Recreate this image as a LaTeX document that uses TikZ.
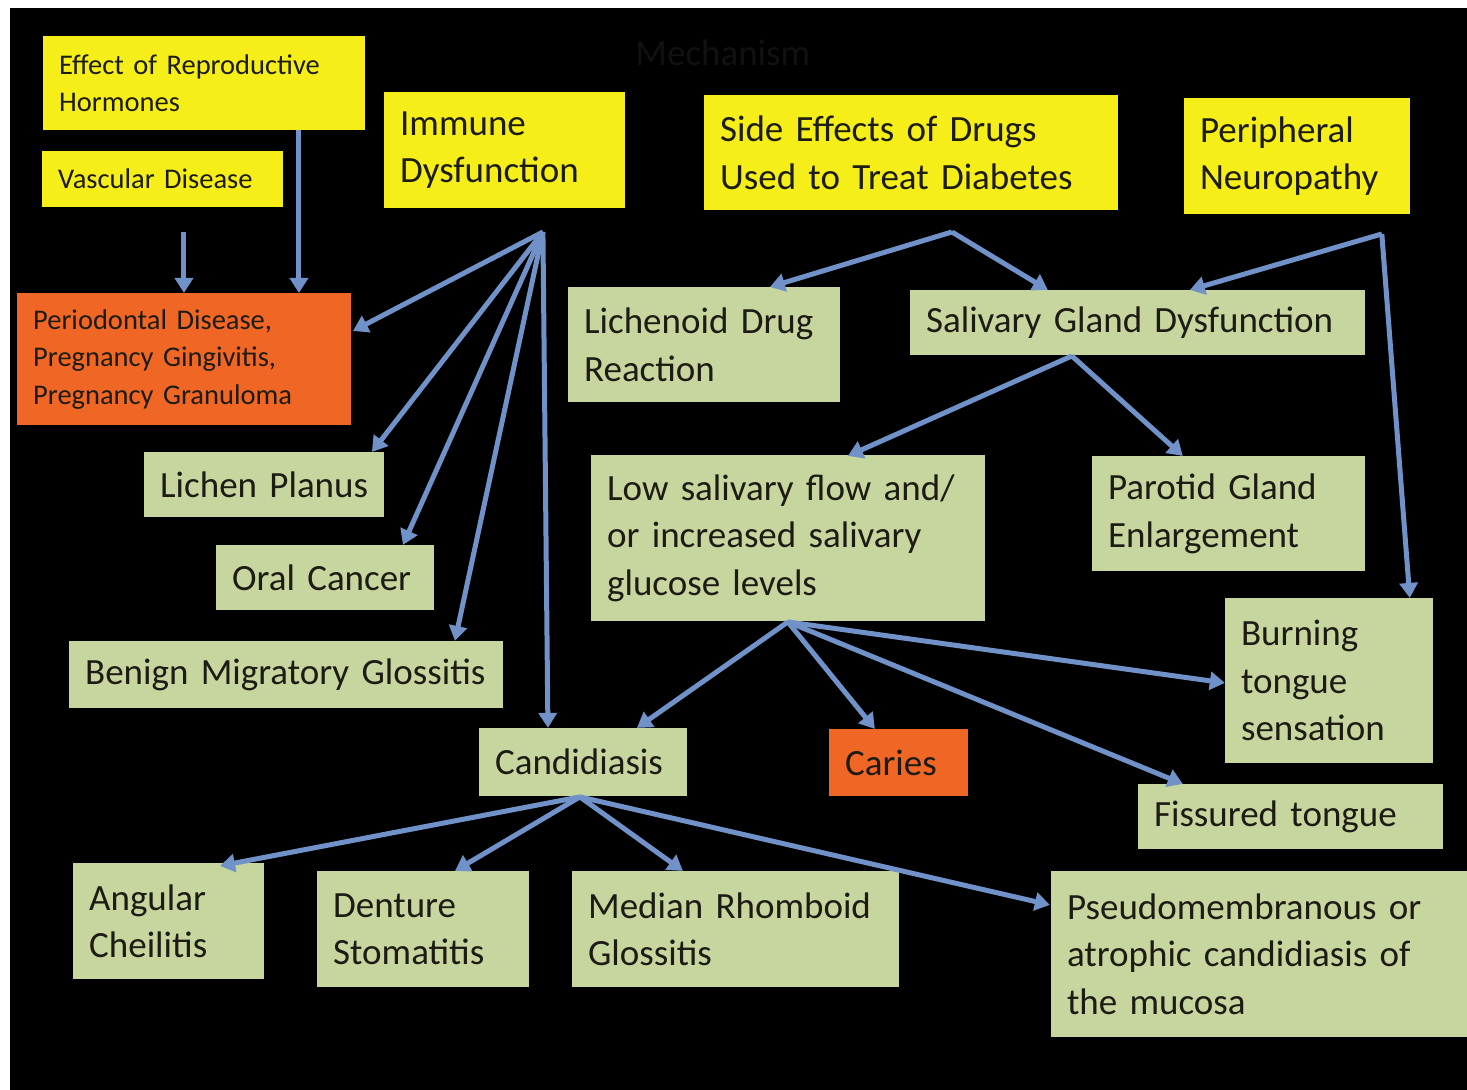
\documentclass[tikz,border=0pt]{standalone}
\usepackage{fontspec}
\setmainfont{Carlito}
\usetikzlibrary{arrows.meta,calc}
\definecolor{ybox}{RGB}{246,238,24}
\definecolor{gbox}{RGB}{199,213,158}
\definecolor{obox}{RGB}{240,102,36}
\definecolor{arr}{RGB}{112,146,200}
\definecolor{txt}{RGB}{28,28,20}
\definecolor{ttl}{RGB}{17,17,17}
\newcommand\mybigfont{\fontsize{37}{47.5}\selectfont\spaceskip 0.19em plus 0.05em\relax}
\newcommand\mysmallfont{\fontsize{28.5}{37.5}\selectfont\spaceskip 0.19em plus 0.05em\relax}
\newcommand\mybox[7]{%
  \pgfmathsetmacro\bw{#5-#3-32}%
  \pgfmathsetmacro\bh{#6-#4}%
  \node[#1, minimum height=\bh pt, text width=\bw pt] (#2) at (#3,#4) {#7};}
\begin{document}
\begin{tikzpicture}[x=1pt,y=-1pt,
  box/.style={anchor=north west, inner xsep=16pt, inner ysep=0pt, align=left, text=txt},
  big/.style={font=\mybigfont},
  small/.style={font=\mysmallfont},
  yel/.style={box, fill=ybox},
  grn/.style={box, fill=gbox, big},
  org/.style={box, fill=obox},
  link/.style={draw=arr, line width=5pt, -{Triangle[length=15pt,width=18pt]}}]
\fill[white] (0,0) rectangle (1467,1090);
\fill[black] (10,8) rectangle (1467,1090);
\node[anchor=west, text=ttl, big] (title) at (632,53) {Mechanism};
% top row
\mybox{yel,small}{eff}{43}{36}{365}{130}{Effect of Reproductive\\Hormones}
\mybox{yel,small}{vasc}{42}{151}{283}{207}{Vascular Disease}
\mybox{yel,big}{imm}{384}{92}{625}{208}{Immune\\Dysfunction}
\mybox{yel,big}{side}{704}{95}{1118}{210}{Side Effects of Drugs\\Used to Treat Diabetes}
\mybox{yel,big}{peri}{1184}{98}{1410}{214}{Peripheral\\Neuropathy}
% second row
\mybox{org,small}{perio}{17}{293}{351}{425}{Periodontal Disease,\\Pregnancy Gingivitis,\\Pregnancy Granuloma}
\mybox{grn}{lich}{568}{287}{840}{402}{Lichenoid Drug\\Reaction}
\mybox{grn}{sal}{910}{290}{1365}{355}{Salivary Gland Dysfunction}
% middle
\mybox{grn}{lp}{144}{452}{384}{517}{Lichen Planus}
\mybox{grn}{oc}{216}{545}{434}{610}{Oral Cancer}
\mybox{grn}{bmg}{69}{641}{503}{708}{Benign Migratory Glossitis}
\mybox{grn}{low}{591}{455}{985}{621}{Low salivary flow and/\\or increased salivary\\glucose levels}
\mybox{grn}{par}{1092}{456}{1365}{571}{Parotid Gland\\Enlargement}
\mybox{grn}{burn}{1225}{598}{1433}{763}{Burning\\tongue\\sensation}
\mybox{grn}{cand}{479}{728}{687}{796}{Candidiasis}
\mybox{org,big}{car}{829}{729}{968}{796}{Caries}
\mybox{grn}{fis}{1138}{784}{1443}{849}{Fissured tongue}
% bottom row
\mybox{grn}{ang}{73}{863}{264}{979}{Angular\\Cheilitis}
\mybox{grn}{den}{317}{871}{529}{987}{Denture\\Stomatitis}
\mybox{grn}{med}{572}{871}{899}{987}{Median Rhomboid\\Glossitis}
\mybox{grn}{pse}{1051}{871}{1467}{1037}{Pseudomembranous or\\atrophic candidiasis of\\the mucosa}
% hubs and free ends
\coordinate (hV) at (184,232);
\coordinate (hE) at (299,130);
\coordinate (hI) at (543,232);
\coordinate (hS) at (952,232);
\coordinate (hP) at (1382,234);
\coordinate (hG) at (1072,356);
\coordinate (hL) at (788,622);
\coordinate (hC) at (580,797);
% tips
\coordinate (tV) at (184,293);
\coordinate (tE) at (299,293);
\coordinate (tPerio) at (353,331);
\coordinate (tLp) at (372,452);
\coordinate (tOc) at (403,545);
\coordinate (tBmg) at (455,641);
\coordinate (tCandI) at (548,728);
\coordinate (tLich) at (770,287);
\coordinate (tSalS) at (1048,290);
\coordinate (tSalP) at (1190,290);
\coordinate (tBurnP) at (1410,598);
\coordinate (tLow) at (848,456);
\coordinate (tPar) at (1183,456);
\coordinate (tCandL) at (637,728);
\coordinate (tCar) at (875,729);
\coordinate (tBurnL) at (1225,683);
\coordinate (tFis) at (1183,784);
\coordinate (tAng) at (220,866);
\coordinate (tDen) at (455,871);
\coordinate (tMed) at (683,871);
\coordinate (tPse) at (1050,905);
% connectors
\draw[link] (hV) -- (tV);
\draw[link] (hE) -- (tE);
\foreach \t in {tPerio,tLp,tOc,tBmg,tCandI} \draw[link] (hI) -- (\t);
\foreach \t in {tLich,tSalS} \draw[link] (hS) -- (\t);
\foreach \t in {tSalP,tBurnP} \draw[link] (hP) -- (\t);
\foreach \t in {tLow,tPar} \draw[link] (hG) -- (\t);
\foreach \t in {tCandL,tCar,tBurnL,tFis} \draw[link] (hL) -- (\t);
\foreach \t in {tAng,tDen,tMed,tPse} \draw[link] (hC) -- (\t);
\end{tikzpicture}
\end{document}
